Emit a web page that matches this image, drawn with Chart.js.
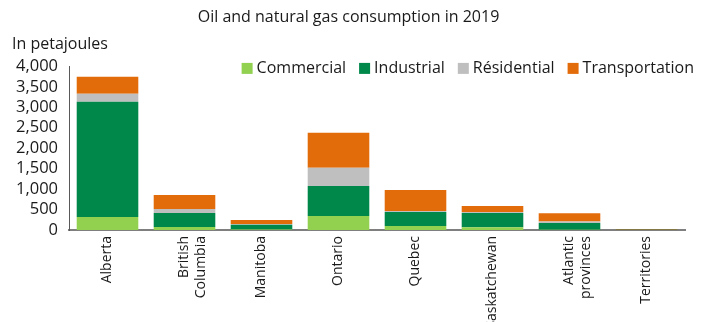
<!DOCTYPE html>
<html>
<head>
<meta charset="utf-8">
<script src="https://cdn.jsdelivr.net/npm/chart.js@4"></script>
<style>
  html, body { margin: 0; padding: 0; background: #fff; }
  #wrap { width: 710px; height: 322px; }
</style>
</head>
<body>
<div id="wrap"><canvas id="myChart"></canvas></div>
<script>
"use strict";

// Provinces / regions
const regions = [
  'Alberta', ['British', 'Columbia'], 'Manitoba', 'Ontario',
  'Quebec', 'Saskatchewan', ['Atlantic', 'provinces'], 'Territories'
];

// Consumption by sector, petajoules
const commercial     = [318,  73,  15, 343, 100,  65,   5,  0];
const industrial     = [2817, 343, 115, 735, 340, 350, 165,  4];
const residential    = [196,  98,  15, 441,  25,  25,  40,  0];
const transportation = [417, 343, 100, 857, 515, 145, 200, 12];

const yTicks = [0, 500, 1000, 1500, 2000, 2500, 3000, 3500, 4000];

const fontFamily = "'Open Sans', 'Noto Sans', sans-serif";
Chart.defaults.font.family = fontFamily;
Chart.defaults.color = '#1a1a1a';

// legend drawn in a row across the top right of the plot, like the original
const rowLegend = {
  id: 'rowLegend',
  afterDraw(chart) {
    const c = chart.ctx;
    const area = chart.chartArea;
    const font = "16px " + fontFamily;
    const box = 11, boxGap = 4, itemGap = 13;
    c.save();
    c.font = font;
    const items = chart.data.datasets.map(ds => ({
      label: ds.label, color: ds.backgroundColor, w: c.measureText(ds.label).width
    }));
    const total = items.reduce((s, it) => s + box + boxGap + it.w, 0) + itemGap * (items.length - 1);
    let x = area.right + 9 - total;
    const y = area.top + 2;
    c.textBaseline = 'middle';
    c.textAlign = 'left';
    items.forEach(it => {
      c.fillStyle = it.color;
      c.fillRect(x, y - box / 2, box, box);
      x += box + boxGap;
      c.fillStyle = '#1a1a1a';
      c.fillText(it.label, x, y);
      x += it.w + itemGap;
    });
    c.restore();
  }
};

const ctx = document.querySelector('#myChart').getContext('2d');

const data = {
  labels: regions,
  datasets: [
    { label: 'Commercial', data: commercial, backgroundColor: '#92d050' },
    { label: 'Industrial', data: industrial, backgroundColor: '#00884a' },
    { label: 'Résidential', data: residential, backgroundColor: '#bfbfbf' },
    { label: 'Transportation', data: transportation, backgroundColor: '#e36c0a' },
  ]
};

const config = {
  type: 'bar',
  data: data,
  plugins: [rowLegend],
  options: {
    responsive: true,
    maintainAspectRatio: false,
    animation: false,
    datasets: {
      bar: { barPercentage: 0.8, categoryPercentage: 1.0 }
    },
    layout: { padding: { left: 12, right: 25, top: 4, bottom: 0 } },
    plugins: {
      title: {
        display: true,
        text: 'Oil and natural gas consumption in 2019',
        font: { size: 16, weight: 'normal' },
        padding: { top: 4, bottom: 4 }
      },
      subtitle: {
        display: true,
        text: 'In petajoules',
        align: 'start',
        font: { size: 16 },
        padding: { top: 4, bottom: 12 }
      },
      legend: { display: false },
      tooltip: { enabled: false }
    },
    scales: {
      x: {
        stacked: true,
        grid: { display: false, drawTicks: false },
        border: { color: '#7f7f7f', width: 2 },
        ticks: {
          minRotation: 90,
          maxRotation: 90,
          autoSkip: false,
          padding: 6,
          font: { size: 14 }
        },
        afterFit: (scale) => { scale.height = 92; }
      },
      y: {
        stacked: true,
        min: 0,
        max: 4000,
        afterBuildTicks: (scale) => {
          scale.ticks = yTicks.map(v => ({ value: v }));
        },
        grid: { display: false, drawTicks: true, tickLength: 7, tickColor: '#595959' },
        border: { color: '#595959', width: 1 },
        ticks: {
          autoSkip: false,
          padding: 4,
          font: { size: 16.5 },
          callback: (v) => v.toLocaleString('en-US')
        }
      }
    }
  }
};

const myChart = new Chart(ctx, config);
</script>
</body>
</html>
